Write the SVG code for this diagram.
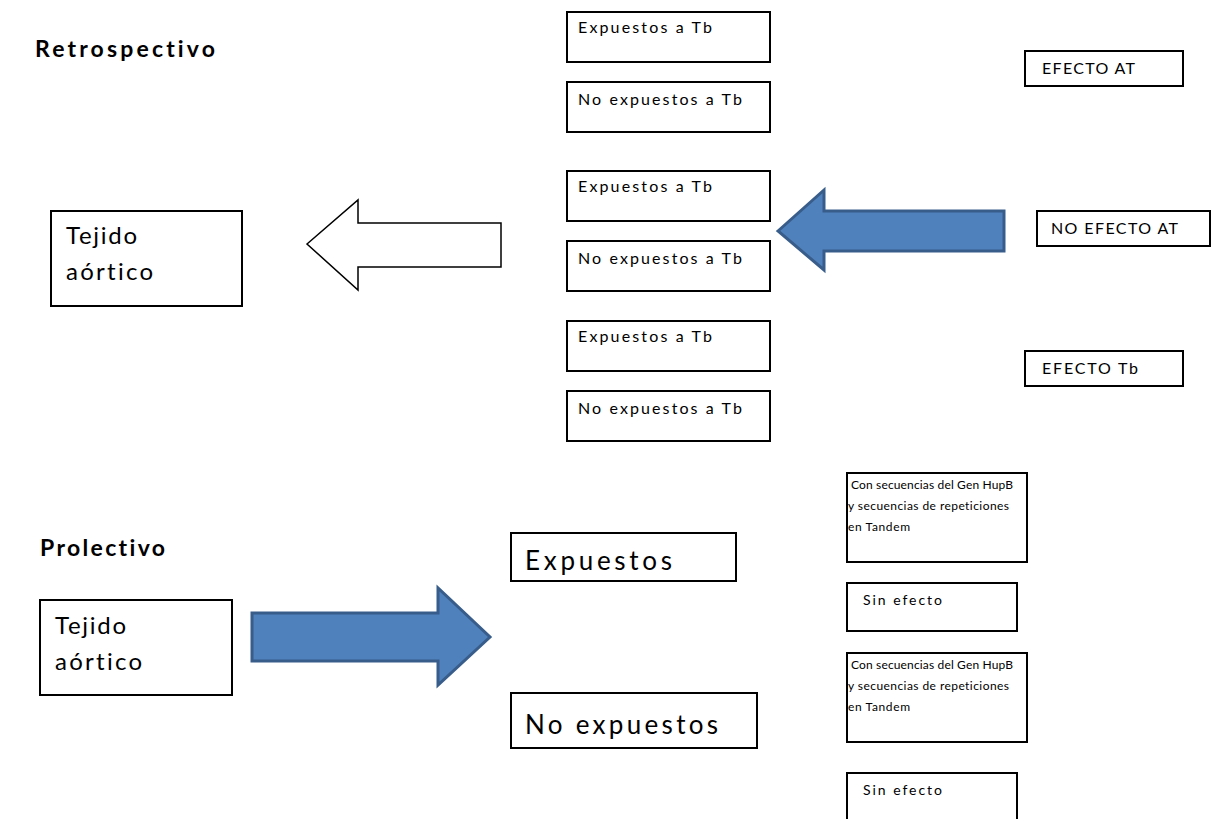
<svg xmlns="http://www.w3.org/2000/svg" width="1212" height="819" viewBox="0 0 1212 819">
<style>
.box{fill:#fff;stroke:#000;stroke-width:2}
.t{font-family:Lato,"Open Sans","Liberation Sans",sans-serif;fill:#000;font-variant-ligatures:none;font-feature-settings:"liga" 0,"clig" 0}
.s{font-size:16px}
.m{font-size:14px}
.c{font-size:12px}
.l{font-size:24px}
.xl{font-size:26px}
.h{font-size:23px;font-weight:bold}
.blue{fill:#4F81BD;stroke:#385D8A;stroke-width:3;stroke-linejoin:miter}
</style>
<rect width="1212" height="819" fill="#fff"/>
<text class="t h" x="35" y="57" textLength="180" lengthAdjust="spacing">Retrospectivo</text>
<text class="t h" x="40" y="556" textLength="125" lengthAdjust="spacing">Prolectivo</text>

<g id="connectors">
<path d="M307,244 L358,200 L358,223 L501,223 L501,267 L358,267 L358,290 Z" fill="#fff" stroke="#000" stroke-width="1.5"/>
<path class="blue" d="M778,231 L824,190 L824,211 L1004,211 L1004,251 L824,251 L824,270 Z"/>
<path class="blue" d="M252,613 L438,613 L438,588 L490,637 L438,685 L438,661 L252,661 Z"/>
</g>

<g id="n1"><rect class="box" x="567" y="12" width="203" height="50"/><text class="t s" x="578" y="33" textLength="134" lengthAdjust="spacing">Expuestos a Tb</text></g>
<g id="n2"><rect class="box" x="567" y="82" width="203" height="50"/><text class="t s" x="578" y="105" textLength="164" lengthAdjust="spacing">No expuestos a Tb</text></g>
<g id="n3"><rect class="box" x="567" y="171" width="203" height="50"/><text class="t s" x="578" y="192" textLength="134" lengthAdjust="spacing">Expuestos a Tb</text></g>
<g id="n4"><rect class="box" x="567" y="241" width="203" height="50"/><text class="t s" x="578" y="264" textLength="164" lengthAdjust="spacing">No expuestos a Tb</text></g>
<g id="n5"><rect class="box" x="567" y="321" width="203" height="50"/><text class="t s" x="578" y="342" textLength="134" lengthAdjust="spacing">Expuestos a Tb</text></g>
<g id="n6"><rect class="box" x="567" y="391" width="203" height="50"/><text class="t s" x="578" y="414" textLength="164" lengthAdjust="spacing">No expuestos a Tb</text></g>

<g id="n7"><rect class="box" x="1025" y="51" width="158" height="35"/><text class="t s" x="1042" y="74" textLength="93" lengthAdjust="spacing">EFECTO AT</text></g>
<g id="n8"><rect class="box" x="1037" y="211" width="173" height="35"/><text class="t s" x="1051" y="234" textLength="127" lengthAdjust="spacing">NO EFECTO AT</text></g>
<g id="n9"><rect class="box" x="1025" y="351" width="158" height="35"/><text class="t s" x="1042" y="374" textLength="96" lengthAdjust="spacing">EFECTO  Tb</text></g>

<g id="n10"><rect class="box" x="51" y="211" width="191" height="95"/><text class="t l" x="66" y="244" textLength="71" lengthAdjust="spacing">Tejido</text><text class="t l" x="66" y="280" textLength="87" lengthAdjust="spacing">aórtico</text></g>
<g id="n11"><rect class="box" x="40" y="600" width="192" height="95"/><text class="t l" x="55" y="634" textLength="71" lengthAdjust="spacing">Tejido</text><text class="t l" x="55" y="670" textLength="87" lengthAdjust="spacing">aórtico</text></g>

<g id="n12"><rect class="box" x="511" y="533" width="225" height="48"/><text class="t xl" x="525" y="570" textLength="147" lengthAdjust="spacing">Expuestos</text></g>
<g id="n13"><rect class="box" x="511" y="693" width="246" height="55"/><text class="t xl" x="525" y="734" textLength="193" lengthAdjust="spacing">No expuestos</text></g>

<g id="n14"><rect class="box" x="847" y="473" width="180" height="89"/>
<text class="t c" x="851" y="489" textLength="162" lengthAdjust="spacing">Con secuencias del Gen HupB</text>
<text class="t c" x="848" y="510" textLength="161" lengthAdjust="spacing">y secuencias de repeticiones</text>
<text class="t c" x="848" y="531" textLength="62" lengthAdjust="spacing">en Tandem</text></g>
<g id="n15"><rect class="box" x="847" y="583" width="170" height="48"/><text class="t m" x="863" y="605" textLength="79" lengthAdjust="spacing">Sin  efecto</text></g>
<g id="n16"><rect class="box" x="847" y="653" width="180" height="89"/>
<text class="t c" x="851" y="669" textLength="162" lengthAdjust="spacing">Con secuencias del Gen HupB</text>
<text class="t c" x="848" y="690" textLength="161" lengthAdjust="spacing">y secuencias de repeticiones</text>
<text class="t c" x="848" y="711" textLength="62" lengthAdjust="spacing">en Tandem</text></g>
<g id="n17"><rect class="box" x="847" y="773" width="170" height="60"/><text class="t m" x="863" y="795" textLength="79" lengthAdjust="spacing">Sin  efecto</text></g>
</svg>
